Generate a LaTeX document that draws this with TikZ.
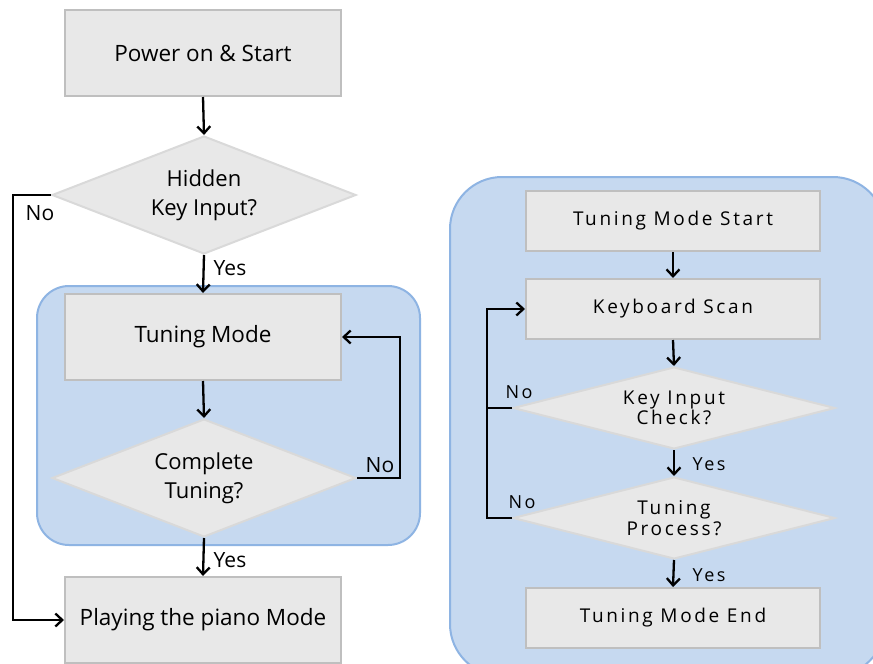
\documentclass[tikz,border=0pt]{standalone}
\usepackage{fontspec}
\setmainfont{Open Sans}
\newfontfamily\widefont{Open Sans}[LetterSpace=14]
\usetikzlibrary{shapes.geometric,arrows.meta}
\definecolor{boxfill}{HTML}{E8E8E8}
\definecolor{boxline}{HTML}{BFBFBF}
\definecolor{dialine}{HTML}{D9D9D9}
\definecolor{regfill}{HTML}{C6D9F0}
\definecolor{regline}{HTML}{8EB4E3}
\begin{document}
\begin{tikzpicture}[x=1pt,y=-1pt,
  procbox/.style={rectangle, draw=boxline, fill=boxfill, line width=2pt, inner sep=0pt,
    minimum width=276pt, minimum height=86pt, font=\fontsize{22.5}{28}\selectfont},
  wbox/.style={rectangle, draw=boxline, fill=boxfill, line width=2pt, inner sep=0pt,
    minimum width=294pt, minimum height=60pt, font=\widefont\fontsize{19}{21}\selectfont},
  decis/.style={diamond, draw=dialine, fill=boxfill, line width=2pt, inner sep=0pt,
    shape aspect=2.58, minimum width=304pt, minimum height=118pt, align=center,
    font=\fontsize{22}{29}\selectfont},
  wdecis/.style={diamond, draw=dialine, fill=boxfill, line width=2pt, inner sep=0pt,
    shape aspect=3.9, minimum width=322pt, minimum height=82pt, align=center,
    font=\widefont\fontsize{19}{20.5}\selectfont},
  region/.style={draw=regline, fill=regfill, line width=2pt},
  flow/.style={line width=2.3pt, -{Straight Barb[length=7pt,width=13pt]}},
  plain/.style={line width=2.3pt},
  lbl/.style={inner sep=0pt, font=\fontsize{21}{24}\selectfont},
  wlbl/.style={inner sep=0pt, font=\widefont\fontsize{18}{20}\selectfont}
]
\clip (0,0) rectangle (873,664);
\fill[white] (0,0) rectangle (873,664);

% regions
\draw[region, rounded corners=32pt] (37,286) rectangle (420,545);
\draw[region, rounded corners=52pt] (450,177) rectangle (885,676);

% left flow
\node[procbox] (start) at (203,53) {Power on \& Start};
\node[decis] (hidden) at (204,195) {Hidden\\Key Input?};
\node[procbox] (tmode) at (203,337) {Tuning Mode};
\node[decis] (complete) at (204,478) {Complete\\Tuning?};
\node[procbox] (play) at (203,620) {Playing the piano Mode};

\draw[flow] (start.south) -- (hidden.north);
\draw[flow] (hidden.south) -- (tmode.north);
\draw[flow] (tmode.south) -- (complete.north);
\draw[flow] (complete.south) -- (play.north);
\coordinate (nl1) at (13,195);
\coordinate (nl2) at (13,620);
\draw[flow] (hidden.west) -- (nl1) -- (nl2) -- (play.west);
\coordinate (nr1) at (400,478);
\coordinate (nr2) at (400,337);
\draw[flow] (complete.east) -- (nr1) -- (nr2) -- (tmode.east);

\node[lbl] (no1) at (40,213) {No};
\node[lbl] (yes1) at (230,268) {Yes};
\node[lbl] (no2) at (380,465) {No};
\node[lbl] (yes2) at (230,560) {Yes};

% right flow
\node[wbox] (tstart) at (673,221) {Tuning Mode Start};
\node[wbox] (kscan) at (673,309) {Keyboard Scan};
\node[wdecis] (kcheck) at (674,408) {Key Input\\Check?};
\node[wdecis] (tproc) at (674,518) {Tuning\\Process?};
\node[wbox] (tend) at (673,618) {Tuning Mode End};

\draw[flow] (tstart.south) -- (kscan.north);
\draw[flow] (kscan.south) -- (kcheck.north);
\draw[flow] (kcheck.south) -- (tproc.north);
\draw[flow] (tproc.south) -- (tend.north);
\coordinate (rl1) at (487,518);
\coordinate (rl2) at (487,309);
\coordinate (rl3) at (487,408);
\draw[flow] (tproc.west) -- (rl1) -- (rl2) -- (kscan.west);
\draw[plain] (kcheck.west) -- (rl3);

\node[wlbl] (no3) at (519,392) {No};
\node[wlbl] (yes3) at (709,464) {Yes};
\node[wlbl] (no4) at (522,502) {No};
\node[wlbl] (yes4) at (709,575) {Yes};
\end{tikzpicture}
\end{document}
